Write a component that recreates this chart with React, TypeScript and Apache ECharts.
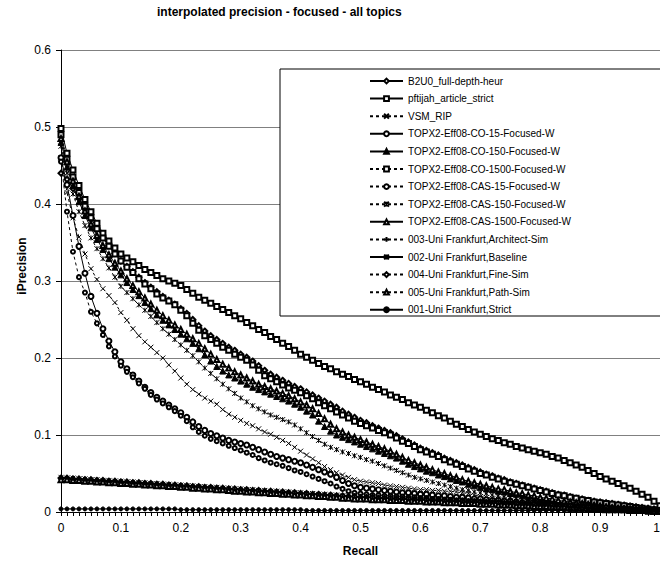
import React, { useEffect, useRef } from "react";
import * as echarts from "echarts";

const recallLevels = [0,0.01,0.02,0.03,0.04,0.05,0.06,0.07,0.08,0.09,0.1,0.11,0.12,0.13,0.14,0.15,0.16,0.17,0.18,0.19,0.2,0.21,0.22,0.23,0.24,0.25,0.26,0.27,0.28,0.29,0.3,0.31,0.32,0.33,0.34,0.35,0.36,0.37,0.38,0.39,0.4,0.41,0.42,0.43,0.44,0.45,0.46,0.47,0.48,0.49,0.5,0.51,0.52,0.53,0.54,0.55,0.56,0.57,0.58,0.59,0.6,0.61,0.62,0.63,0.64,0.65,0.66,0.67,0.68,0.69,0.7,0.71,0.72,0.73,0.74,0.75,0.76,0.77,0.78,0.79,0.8,0.81,0.82,0.83,0.84,0.85,0.86,0.87,0.88,0.89,0.9,0.91,0.92,0.93,0.94,0.95,0.96,0.97,0.98,0.99,1];

const b2u0 = [.44,.432,.42,.407,.394,.381,.369,.357,.346,.336,.326,.319,.312,.305,.298,.292,.286,.28,.275,.27,.264,.258,.25,.242,.235,.229,.224,.219,.214,.21,.205,.201,.196,.19,.184,.179,.175,.171,.167,.163,.16,.156,.152,.148,.144,.14,.136,.131,.127,.123,.119,.116,.112,.109,.106,.103,.099,.095,.091,.087,.083,.08,.077,.074,.07,.067,.064,.061,.058,.055,.052,.049,.047,.044,.042,.039,.037,.035,.033,.031,.029,.027,.025,.023,.022,.02,.018,.017,.015,.014,.013,.012,.011,.01,.009,.008,.007,.006,.005,.004,.003];
const pftijah = [.498,.466,.444,.424,.406,.39,.375,.362,.352,.343,.335,.33,.325,.32,.315,.311,.307,.303,.3,.297,.294,.289,.284,.279,.275,.271,.267,.263,.259,.255,.251,.246,.242,.237,.233,.228,.224,.219,.215,.21,.205,.201,.197,.193,.189,.186,.182,.179,.176,.172,.169,.166,.162,.159,.156,.152,.149,.146,.142,.139,.136,.132,.129,.125,.122,.118,.114,.111,.107,.104,.101,.098,.095,.093,.09,.088,.085,.083,.081,.079,.077,.075,.072,.07,.067,.064,.061,.058,.054,.05,.046,.043,.04,.037,.034,.031,.027,.023,.019,.014,.008];
const vsmRip = [.46,.415,.382,.357,.335,.316,.302,.29,.281,.272,.259,.249,.238,.229,.221,.214,.207,.2,.191,.183,.174,.166,.159,.153,.148,.144,.14,.133,.127,.123,.119,.115,.112,.108,.104,.101,.097,.093,.089,.084,.079,.074,.069,.064,.059,.055,.051,.048,.045,.042,.04,.039,.038,.037,.035,.034,.033,.032,.031,.03,.029,.029,.028,.028,.027,.027,.026,.025,.024,.022,.02,.019,.018,.017,.016,.015,.014,.013,.012,.012,.011,.01,.01,.009,.009,.008,.008,.007,.007,.006,.006,.005,.005,.004,.004,.003,.003,.003,.002,.002,.001];
const co15 = [.46,.425,.385,.345,.31,.28,.258,.238,.222,.208,.195,.186,.178,.17,.162,.155,.149,.144,.139,.134,.129,.123,.117,.111,.106,.102,.099,.096,.093,.091,.089,.087,.084,.081,.078,.075,.072,.07,.068,.066,.064,.061,.058,.055,.052,.049,.045,.041,.037,.034,.032,.031,.03,.029,.028,.027,.026,.025,.025,.024,.023,.023,.022,.021,.021,.02,.019,.019,.018,.017,.017,.016,.015,.015,.014,.014,.013,.012,.012,.011,.011,.01,.01,.009,.009,.008,.008,.007,.007,.006,.006,.005,.005,.005,.004,.004,.003,.003,.002,.002,.001];
const co150 = [.48,.448,.424,.403,.385,.369,.354,.341,.329,.318,.308,.298,.289,.281,.272,.264,.256,.249,.243,.237,.231,.225,.219,.212,.204,.196,.189,.183,.178,.174,.17,.166,.162,.159,.156,.153,.15,.147,.144,.14,.136,.131,.126,.118,.111,.105,.1,.097,.094,.091,.088,.085,.082,.079,.076,.073,.07,.066,.062,.059,.056,.053,.051,.048,.046,.043,.041,.039,.036,.034,.032,.03,.029,.027,.026,.024,.023,.021,.02,.018,.017,.016,.015,.013,.012,.011,.01,.009,.008,.007,.006,.005,.005,.004,.003,.003,.002,.002,.001,.001,.001];
const co1500 = [.49,.458,.435,.415,.397,.382,.368,.356,.345,.335,.326,.318,.311,.303,.296,.29,.283,.278,.274,.269,.262,.255,.245,.236,.229,.224,.219,.214,.21,.205,.201,.197,.191,.184,.177,.173,.169,.165,.161,.158,.155,.151,.147,.142,.138,.134,.13,.126,.122,.118,.115,.112,.109,.106,.103,.1,.096,.092,.089,.085,.081,.078,.075,.072,.068,.065,.062,.059,.056,.053,.05,.048,.045,.043,.04,.038,.036,.034,.032,.03,.028,.026,.024,.022,.021,.019,.018,.016,.015,.013,.012,.011,.01,.009,.008,.007,.006,.005,.004,.003,.002];
const cas15 = [.455,.39,.338,.305,.285,.26,.245,.23,.215,.202,.19,.182,.175,.167,.16,.152,.146,.141,.136,.131,.125,.118,.11,.104,.099,.095,.092,.089,.086,.083,.08,.077,.074,.07,.067,.064,.062,.06,.057,.054,.052,.049,.046,.043,.04,.037,.033,.03,.027,.025,.024,.023,.022,.022,.021,.021,.02,.02,.019,.019,.018,.018,.017,.017,.016,.016,.015,.015,.014,.014,.013,.013,.012,.012,.011,.011,.01,.01,.01,.009,.009,.008,.008,.008,.007,.007,.006,.006,.006,.005,.005,.004,.004,.004,.003,.003,.003,.002,.002,.001,.001];
const cas150 = [.475,.44,.413,.39,.372,.356,.342,.329,.317,.305,.293,.285,.277,.269,.262,.254,.246,.238,.231,.224,.217,.21,.203,.195,.187,.18,.173,.166,.16,.154,.148,.143,.138,.134,.13,.126,.123,.12,.117,.113,.108,.103,.098,.093,.088,.084,.081,.078,.076,.073,.071,.068,.066,.063,.06,.057,.054,.051,.048,.045,.043,.041,.039,.037,.035,.033,.031,.029,.028,.026,.025,.024,.022,.021,.02,.019,.018,.017,.016,.015,.014,.013,.012,.011,.01,.009,.009,.008,.007,.006,.006,.005,.005,.004,.004,.003,.003,.002,.002,.001,.001];
const cas1500 = [.485,.455,.43,.41,.391,.374,.359,.346,.334,.323,.313,.303,.294,.286,.278,.27,.262,.255,.249,.243,.237,.231,.225,.219,.212,.205,.198,.192,.187,.182,.178,.174,.17,.166,.163,.16,.157,.154,.151,.147,.143,.139,.134,.128,.121,.114,.108,.104,.1,.097,.094,.091,.088,.085,.082,.079,.075,.071,.067,.064,.061,.058,.055,.052,.05,.047,.045,.042,.04,.038,.036,.034,.032,.03,.029,.027,.025,.024,.022,.021,.019,.018,.017,.015,.014,.013,.012,.011,.01,.009,.008,.007,.006,.005,.004,.004,.003,.002,.002,.001,.001];
const uf003 = [.043,.043,.042,.042,.041,.041,.04,.04,.039,.039,.038,.038,.037,.037,.036,.036,.035,.035,.034,.034,.033,.033,.032,.032,.031,.031,.03,.03,.029,.029,.028,.028,.027,.027,.026,.026,.025,.025,.024,.024,.023,.023,.022,.022,.021,.021,.02,.02,.019,.019,.018,.018,.018,.017,.017,.017,.016,.016,.016,.015,.015,.015,.014,.014,.014,.013,.013,.013,.012,.012,.012,.011,.011,.011,.01,.01,.01,.009,.009,.009,.008,.008,.008,.007,.007,.007,.006,.006,.006,.005,.005,.005,.004,.004,.004,.003,.003,.003,.002,.002,.002];
const uf002 = [.045,.044,.044,.043,.043,.042,.042,.041,.041,.04,.04,.039,.039,.038,.038,.037,.037,.036,.036,.035,.035,.034,.034,.033,.033,.032,.032,.031,.031,.03,.03,.029,.029,.028,.028,.027,.027,.026,.026,.025,.025,.024,.024,.023,.023,.022,.022,.021,.021,.02,.02,.019,.019,.019,.018,.018,.018,.017,.017,.017,.016,.016,.016,.015,.015,.015,.014,.014,.014,.013,.013,.013,.012,.012,.012,.011,.011,.011,.01,.01,.01,.009,.009,.009,.008,.008,.008,.007,.007,.007,.006,.006,.006,.005,.005,.005,.004,.004,.004,.003,.003];
const uf004 = [.044,.044,.043,.043,.042,.042,.041,.041,.04,.04,.039,.039,.038,.038,.037,.037,.036,.036,.035,.035,.034,.034,.033,.033,.032,.032,.031,.031,.03,.03,.029,.029,.028,.028,.027,.027,.026,.026,.025,.025,.024,.024,.023,.023,.022,.022,.021,.021,.02,.02,.019,.019,.019,.018,.018,.018,.017,.017,.017,.016,.016,.016,.015,.015,.015,.014,.014,.014,.013,.013,.013,.012,.012,.012,.011,.011,.011,.01,.01,.01,.009,.009,.009,.008,.008,.008,.007,.007,.007,.006,.006,.006,.005,.005,.005,.004,.004,.004,.003,.003,.002];
const uf005 = [.042,.042,.041,.041,.04,.04,.039,.039,.038,.038,.037,.037,.036,.036,.035,.035,.034,.034,.033,.033,.032,.032,.031,.031,.03,.03,.029,.029,.028,.027,.027,.026,.026,.025,.025,.024,.024,.023,.023,.022,.022,.021,.021,.02,.02,.019,.019,.018,.018,.017,.017,.017,.016,.016,.016,.015,.015,.015,.014,.014,.014,.013,.013,.013,.012,.012,.012,.011,.011,.011,.01,.01,.01,.009,.009,.009,.008,.008,.008,.007,.007,.007,.006,.006,.006,.005,.005,.005,.004,.004,.004,.003,.003,.003,.003,.002,.002,.002,.002,.001,.001];
const uf001 = [.004,.004,.004,.004,.004,.004,.004,.004,.004,.004,.004,.004,.004,.004,.004,.004,.004,.004,.004,.004,.003,.003,.003,.003,.003,.003,.003,.003,.003,.003,.003,.003,.003,.003,.003,.003,.003,.003,.003,.003,.003,.002,.002,.002,.002,.002,.002,.002,.002,.002,.002,.002,.002,.002,.002,.002,.002,.002,.002,.002,.002,.002,.002,.002,.002,.002,.002,.002,.002,.002,.002,.002,.002,.002,.002,.002,.002,.002,.002,.002,.002,.002,.002,.002,.002,.002,.002,.002,.002,.002,.002,.002,.002,.002,.002,.002,.002,.002,.002,.002,.002];

const seriesNames = [
  "B2U0_full-depth-heur",
  "pftijah_article_strict",
  "VSM_RIP",
  "TOPX2-Eff08-CO-15-Focused-W",
  "TOPX2-Eff08-CO-150-Focused-W",
  "TOPX2-Eff08-CO-1500-Focused-W",
  "TOPX2-Eff08-CAS-15-Focused-W",
  "TOPX2-Eff08-CAS-150-Focused-W",
  "TOPX2-Eff08-CAS-1500-Focused-W",
  "003-Uni Frankfurt,Architect-Sim",
  "002-Uni Frankfurt,Baseline",
  "004-Uni Frankfurt,Fine-Sim",
  "005-Uni Frankfurt,Path-Sim",
  "001-Uni Frankfurt,Strict",
];
const seriesValues = [b2u0, pftijah, vsmRip, co15, co150, co1500, cas15, cas150, cas1500, uf003, uf002, uf004, uf005, uf001];

const yTicks = [0, 0.1, 0.2, 0.3, 0.4, 0.5, 0.6];

const X_SYM = "path://M0,0L10,10M10,0L0,10";
const ASTER_SYM = "path://M0,0L10,10M10,0L0,10M5,0L5,10";
const PLUS_SYM = "path://M5,0L5,10M0,5L10,5";

const styles = [
  { symbol: "emptyDiamond", size: 5, dashed: false },
  { symbol: "emptyRect", size: 5, dashed: false },
  { symbol: X_SYM, size: 5, dashed: true },
  { symbol: "emptyCircle", size: 5, dashed: false },
  { symbol: "triangle", size: 6, dashed: false },
  { symbol: "emptyRect", size: 5, dashed: true },
  { symbol: "emptyCircle", size: 4, dashed: true },
  { symbol: ASTER_SYM, size: 5, dashed: true },
  { symbol: "emptyTriangle", size: 5, dashed: false },
  { symbol: PLUS_SYM, size: 5, dashed: true },
  { symbol: ASTER_SYM, size: 5, dashed: false },
  { symbol: "emptyDiamond", size: 5, dashed: true },
  { symbol: "emptyTriangle", size: 5, dashed: true },
  { symbol: "circle", size: 4, dashed: false },
];

const FONT = "'Liberation Sans', Arial, sans-serif";

export default function App() {
  const ref = useRef<HTMLDivElement>(null);
  useEffect(() => {
    document.body.style.margin = "0";
    if (!ref.current) return;
    const chart = echarts.init(ref.current, null, { renderer: "svg" });
    const series = seriesNames.map((name, i) => ({
      name,
      type: "line",
      data: seriesValues[i],
      symbol: styles[i].symbol,
      symbolSize: styles[i].size,
      showSymbol: true,
      showAllSymbol: true,
      lineStyle: { color: "#000", width: 1, type: styles[i].dashed ? [3, 3] : "solid" },
      itemStyle: { color: "#000", borderColor: "#000", borderWidth: 1 },
      z: 2,
    }));
    chart.setOption({
      animation: false,
      backgroundColor: "#fff",
      title: {
        text: "interpolated precision - focused - all topics",
        left: 157,
        top: 6,
        padding: 0,
        textStyle: { fontFamily: FONT, fontSize: 12, fontWeight: "bold", color: "#000" },
      },
      grid: { left: 61, width: 599, top: 50, height: 462, containLabel: false, outerBoundsMode: "none" },
      xAxis: {
        type: "category",
        data: recallLevels.map((v) => String(v)),
        boundaryGap: false,
        name: "Recall",
        nameLocation: "middle",
        nameGap: 33,
        nameTextStyle: { fontFamily: FONT, fontSize: 12, fontWeight: "bold", color: "#000" },
        axisLine: { lineStyle: { color: "#000", width: 1 } },
        axisTick: { show: true, interval: 0, length: 4, lineStyle: { color: "#000" } },
        axisLabel: { interval: 9, margin: 10, alignMaxLabel: "right", fontFamily: FONT, fontSize: 12, color: "#000" },
        splitLine: { show: false },
      },
      yAxis: {
        type: "value",
        min: yTicks[0],
        max: yTicks[yTicks.length - 1],
        interval: 0.1,
        axisLine: { show: true, lineStyle: { color: "#000", width: 1 } },
        axisTick: { show: true, length: 5, lineStyle: { color: "#000" } },
        axisLabel: { margin: 10, fontFamily: FONT, fontSize: 12, color: "#000" },
        splitLine: { show: true, lineStyle: { color: "#808080", width: 1 } },
      },
      legend: {
        data: seriesNames,
        orient: "vertical",
        left: 369,
        top: 76,
        padding: 0,
        itemWidth: 33,
        itemHeight: 6,
        itemGap: 7.6,
        selectedMode: false,
        z: 20,
        textStyle: { fontFamily: FONT, fontSize: 10, color: "#000" },
      },
      graphic: [
        {
          type: "rect",
          z: 15,
          shape: { x: 280, y: 69, width: 420, height: 247 },
          style: { fill: "#fff", stroke: "#000", lineWidth: 1 },
        },
        {
          type: "text",
          z: 15,
          x: 22,
          y: 266,
          rotation: Math.PI / 2,
          style: {
            text: "iPrecision",
            fontFamily: FONT,
            fontSize: 12,
            fontWeight: "bold",
            fill: "#000",
            align: "center",
            verticalAlign: "middle",
          },
        },
      ],
      series,
    });
    return () => chart.dispose();
  }, []);
  return <div ref={ref} style={{ width: 660, height: 561 }} />;
}
